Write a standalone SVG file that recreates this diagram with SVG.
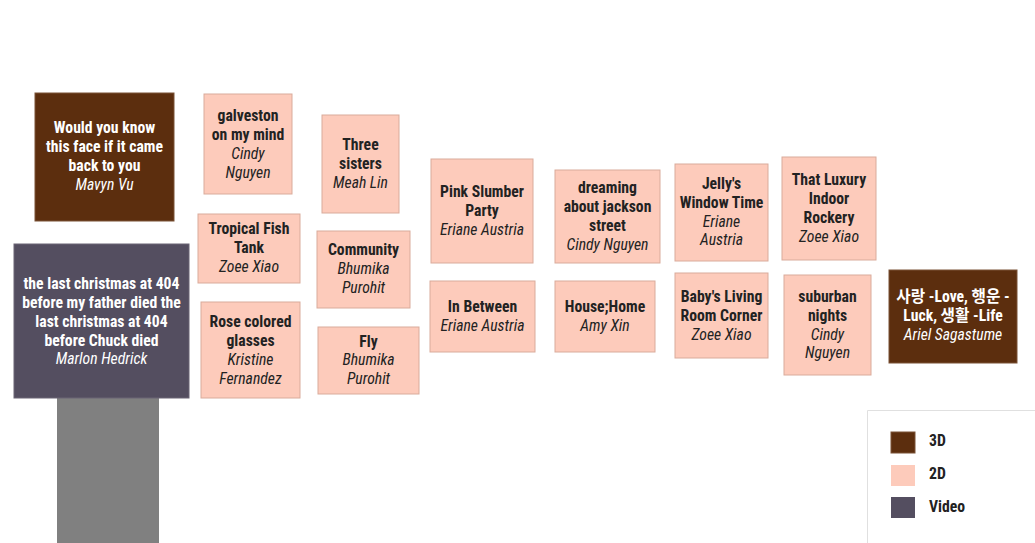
<svg xmlns="http://www.w3.org/2000/svg" width="1035" height="543" viewBox="0 0 1035 543">
<style>
.n3{fill:#5c2e0e;stroke:#7a5236;stroke-width:1}
.n2{fill:#fdcbbb;stroke:#d9ab9b;stroke-width:1}
.nv{fill:#544e60;stroke:#6a6474;stroke-width:1}
text{font-family:"Roboto Condensed","Roboto",sans-serif;font-stretch:condensed;font-size:15.7px;text-anchor:middle}
.b{font-weight:bold}
.i{font-style:italic}
.w{fill:#ffffff}
.k{fill:#222222}
.lg{text-anchor:start;font-weight:bold;fill:#222}
.kr{font-family:"Roboto Condensed","Roboto","Noto Sans CJK KR",sans-serif}
</style>
<rect width="1035" height="543" fill="#ffffff"/>
<g id="connectors"/>
<g id="gray-bar"><rect x="57" y="398" width="102" height="145" fill="#808080"/></g>

<g id="n-face"><rect class="n3" x="35" y="93" width="139" height="128"/>
<text class="w b" x="104.5" y="133">Would you know</text>
<text class="w b" x="104.5" y="152">this face if it came</text>
<text class="w b" x="104.5" y="171">back to you</text>
<text class="w i" x="104.5" y="190">Mavyn Vu</text></g>

<g id="n-galveston"><rect class="n2" x="204" y="94" width="88" height="100"/>
<text class="k b" x="248" y="121">galveston</text>
<text class="k b" x="248" y="140">on my mind</text>
<text class="k i" x="248" y="159">Cindy</text>
<text class="k i" x="248" y="178">Nguyen</text></g>

<g id="n-tropical"><rect class="n2" x="198" y="214" width="102" height="69"/>
<text class="k b" x="249" y="234">Tropical Fish</text>
<text class="k b" x="249" y="253">Tank</text>
<text class="k i" x="249" y="272">Zoee Xiao</text></g>

<g id="n-video"><rect class="nv" x="14" y="244" width="175" height="154"/>
<text class="w b" x="101.5" y="289">the last christmas at 404</text>
<text class="w b" x="101.5" y="308">before my father died the</text>
<text class="w b" x="101.5" y="327">last christmas at 404</text>
<text class="w b" x="101.5" y="346">before Chuck died</text>
<text class="w i" x="101.5" y="364">Marlon Hedrick</text></g>

<g id="n-rose"><rect class="n2" x="201" y="302" width="99" height="96"/>
<text class="k b" x="250.5" y="327">Rose colored</text>
<text class="k b" x="250.5" y="346">glasses</text>
<text class="k i" x="250.5" y="365">Kristine</text>
<text class="k i" x="250.5" y="384">Fernandez</text></g>

<g id="n-three"><rect class="n2" x="322" y="115" width="77" height="98"/>
<text class="k b" x="360.5" y="150">Three</text>
<text class="k b" x="360.5" y="169">sisters</text>
<text class="k i" x="360.5" y="188">Meah Lin</text></g>

<g id="n-community"><rect class="n2" x="317" y="231" width="93" height="77"/>
<text class="k b" x="363.5" y="255">Community</text>
<text class="k i" x="363.5" y="274">Bhumika</text>
<text class="k i" x="363.5" y="293">Purohit</text></g>

<g id="n-fly"><rect class="n2" x="318" y="327" width="101" height="67"/>
<text class="k b" x="368.5" y="347">Fly</text>
<text class="k i" x="368.5" y="365">Bhumika</text>
<text class="k i" x="368.5" y="384">Purohit</text></g>

<g id="n-pink"><rect class="n2" x="431" y="159" width="102" height="104"/>
<text class="k b" x="482" y="197">Pink Slumber</text>
<text class="k b" x="482" y="216">Party</text>
<text class="k i" x="482" y="235">Eriane Austria</text></g>

<g id="n-between"><rect class="n2" x="430" y="281" width="105" height="71"/>
<text class="k b" x="482.5" y="312">In Between</text>
<text class="k i" x="482.5" y="331">Eriane Austria</text></g>

<g id="n-dreaming"><rect class="n2" x="555" y="170" width="105" height="93"/>
<text class="k b" x="607.5" y="193">dreaming</text>
<text class="k b" x="607.5" y="212">about jackson</text>
<text class="k b" x="607.5" y="231">street</text>
<text class="k i" x="607.5" y="250">Cindy Nguyen</text></g>

<g id="n-house"><rect class="n2" x="555" y="281" width="100" height="71"/>
<text class="k b" x="605" y="312">House;Home</text>
<text class="k i" x="605" y="331">Amy Xin</text></g>

<g id="n-jelly"><rect class="n2" x="675" y="164" width="93" height="97"/>
<text class="k b" x="721.5" y="189">Jelly's</text>
<text class="k b" x="721.5" y="208">Window Time</text>
<text class="k i" x="721.5" y="227">Eriane</text>
<text class="k i" x="721.5" y="245">Austria</text></g>

<g id="n-baby"><rect class="n2" x="675" y="273" width="93" height="85"/>
<text class="k b" x="721.5" y="302">Baby's Living</text>
<text class="k b" x="721.5" y="321">Room Corner</text>
<text class="k i" x="721.5" y="340">Zoee Xiao</text></g>

<g id="n-luxury"><rect class="n2" x="782" y="157" width="94" height="103"/>
<text class="k b" x="829" y="185">That Luxury</text>
<text class="k b" x="829" y="204">Indoor</text>
<text class="k b" x="829" y="223">Rockery</text>
<text class="k i" x="829" y="242">Zoee Xiao</text></g>

<g id="n-suburban"><rect class="n2" x="784" y="275" width="87" height="100"/>
<text class="k b" x="827.5" y="302">suburban</text>
<text class="k b" x="827.5" y="321">nights</text>
<text class="k i" x="827.5" y="340">Cindy</text>
<text class="k i" x="827.5" y="358">Nguyen</text></g>

<g id="n-sarang"><rect class="n3" x="889" y="270" width="128" height="93"/>
<text class="w b kr" x="953" y="302">사랑 -Love, 행운 -</text>
<text class="w b kr" x="953" y="321">Luck, 생활 -Life</text>
<text class="w i" x="953" y="340">Ariel Sagastume</text></g>

<g id="legend">
<path d="M867.5 543 V410.5 H1035" fill="none" stroke="#e0e0e0" stroke-width="1"/>
<rect class="n3" x="891" y="432" width="24" height="21"/>
<rect x="891" y="465" width="24" height="21" fill="#fdcbbb"/>
<rect x="891" y="497" width="24" height="21" fill="#544e60"/>
<text class="lg" x="929" y="446">3D</text>
<text class="lg" x="929" y="479">2D</text>
<text class="lg" x="929" y="512">Video</text>
</g>
</svg>
